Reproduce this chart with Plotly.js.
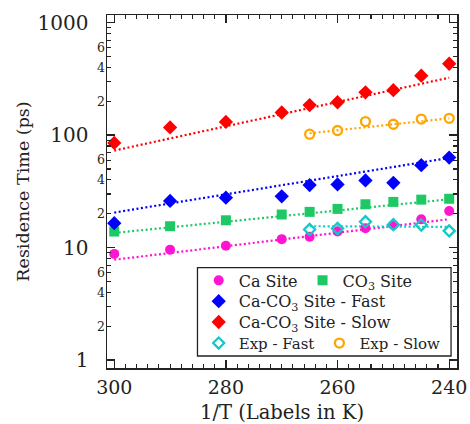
<!DOCTYPE html>
<html>
<head>
<meta charset="utf-8">
<script src="https://cdn.plot.ly/plotly-3.0.1.min.js"></script>
<style>html,body{margin:0;padding:0;background:#fff;}#chart{width:470px;height:424px;}</style>
</head>
<body>
<div id="chart"></div>
<script>
// ---- data ----
const simT = [300, 290, 280, 270, 265, 260, 255, 250, 245, 240];
const expT = [265, 260, 255, 250, 245, 240];

const caSite   = [8.8, 9.6, 10.4, 11.9, 12.5, 13.9, 14.9, 15.9, 17.9, 21.2];
const co3Site  = [13.9, 15.5, 17.5, 19.7, 20.8, 22.1, 24.3, 25.5, 26.7, 27.2];
const caco3Fast = [16.5, 26.0, 27.8, 28.6, 36.0, 36.5, 39.6, 37.7, 54.1, 63.2];
const caco3Slow = [85.2, 117, 131, 159, 185, 196, 240, 251, 338, 431];
const expFast  = [14.5, 14.8, 17.0, 16.0, 15.9, 14.1];
const expSlow  = [102, 110, 132, 125, 139, 141];

// fitted lines (end points)
const simFitT = [300, 240];
const expFitT = [265, 240];
const caFit    = [7.8, 17.9];
const co3Fit   = [13.5, 26.9];
const fastFit  = [20.5, 62.8];
const slowFit  = [72.9, 324];
const expFastFit = [15.5, 15.3];
const expSlowFit = [104, 141];

const yMajorVals = [1, 10, 100, 1000];
const yMajorText = ['1', '10', '100', '1000'];
const yMinorLabelVals = [2, 4, 6, 20, 40, 60, 200, 400, 600];
const yMinorLabelText = ['2', '4', '6', '2', '4', '6', '2', '4', '6'];
const xTickVals = [300, 280, 260, 240];

// ---- styling ----
const FONT = 'DejaVu Serif, Liberation Serif, serif';
const C = {
  ca: '#ff14d2', co3: '#1ec864', fast: '#0000ff', slow: '#ff0000',
  expFast: '#14c8c8', expSlow: '#ffa500'
};

const minorY = [];
for (let d = 0; d < 3; d++) for (let k = 2; k <= 9; k++) minorY.push(k * Math.pow(10, d));

function fit(x, y, color) {
  return {x: x, y: y, mode: 'lines', type: 'scatter', showlegend: false, hoverinfo: 'skip',
    line: {color: color, width: 2.2, dash: '2px,2.5px'}};
}
function pts(x, y, name, sym, color, size, legend, open) {
  const m = {symbol: sym, size: size, color: color};
  if (open) { m.line = {color: color, width: 2.3}; }
  return {x: x, y: y, mode: 'markers', type: 'scatter', name: name, legend: legend, marker: m};
}

const traces = [
  fit(simFitT, slowFit, C.slow),
  fit(expFitT, expSlowFit, C.expSlow),
  fit(simFitT, fastFit, C.fast),
  fit(simFitT, co3Fit, C.co3),
  fit(simFitT, caFit, C.ca),
  fit(expFitT, expFastFit, C.expFast),
  pts(simT, caSite, 'Ca Site', 'circle', C.ca, 10, 'legend'),
  pts(simT, co3Site, 'CO<sub>3</sub> Site', 'square', C.co3, 10, 'legend'),
  pts(simT, caco3Fast, 'Ca-CO<sub>3</sub> Site - Fast', 'diamond', C.fast, 11, 'legend2'),
  pts(simT, caco3Slow, 'Ca-CO<sub>3</sub> Site - Slow', 'diamond', C.slow, 11, 'legend3'),
  pts(expT, expFast, 'Exp - Fast', 'diamond-open', C.expFast, 8.5, 'legend4', true),
  pts(expT, expSlow, 'Exp - Slow', 'circle-open', C.expSlow, 9, 'legend4', true),
];
// overlay axis trace carrying the small minor labels
traces.push({x: [simT[0]], y: [caSite[0]], yaxis: 'y2', mode: 'markers', showlegend: false,
  hoverinfo: 'skip', marker: {opacity: 0}});

function leg(y, fs) {
  return {orientation: 'h', x: 0.262, y: y, xanchor: 'left', yanchor: 'middle',
    bgcolor: 'rgba(0,0,0,0)', borderwidth: 0, font: {family: FONT, size: fs, color: '#222'},
    itemclick: false};
}

const yRange = [-0.07, 3.068];
const layout = {
  width: 470, height: 424,
  margin: {l: 107, r: 11, t: 13, b: 56},
  paper_bgcolor: '#fff', plot_bgcolor: '#fff',
  font: {family: FONT, color: '#222'},
  showlegend: true,
  xaxis: {
    range: [301.3, 238.6], tickmode: 'array', tickvals: xTickVals, automargin: false,
    ticks: 'inside', ticklen: 8, tickwidth: 1.3, tickcolor: '#222',
    minor: {dtick: 2, tick0: 240, ticks: 'inside', ticklen: 4, tickwidth: 1.1, tickcolor: '#222', showgrid: false},
    showline: true, linecolor: '#222', linewidth: 1.5, mirror: 'ticks',
    showgrid: false, zeroline: false,
    tickfont: {family: FONT, size: 19, color: '#222'},
    ticklabelstandoff: 2,
    title: {text: '1/T (Labels in K)', font: {family: FONT, size: 19.5, color: '#222'}}
  },
  yaxis: {
    type: 'log', range: yRange, tickmode: 'array', tickvals: yMajorVals, ticktext: yMajorText, automargin: true,
    ticks: 'inside', ticklen: 8, tickwidth: 1.3, tickcolor: '#222',
    minor: {tickvals: minorY, ticks: 'inside', ticklen: 4, tickwidth: 1.1, tickcolor: '#222', showgrid: false},
    showline: true, linecolor: '#222', linewidth: 1.5, mirror: 'ticks',
    showgrid: false, zeroline: false,
    tickfont: {family: FONT, size: 20, color: '#222'},
    ticklabelstandoff: 13,
    title: {text: 'Residence Time (ps)', font: {family: FONT, size: 17.5, color: '#222'}, standoff: 3}
  },
  yaxis2: {
    type: 'log', range: yRange, overlaying: 'y', side: 'left', tickmode: 'array', automargin: false,
    tickvals: yMinorLabelVals, ticktext: yMinorLabelText, ticks: '',
    showline: false, showgrid: false, zeroline: false,
    tickfont: {family: FONT, size: 12.5, color: '#222'}, ticklabelstandoff: 1
  },
  legend: leg(0.248, 16),
  legend2: leg(0.189, 16),
  legend3: leg(0.130, 16),
  legend4: leg(0.070, 15),
  shapes: [{type: 'rect', xref: 'paper', yref: 'paper', x0: 0.2585, x1: 0.983, y0: 0.034, y1: 0.2845,
    line: {color: '#222', width: 1.3}, fillcolor: 'rgba(0,0,0,0)'}]
};

Plotly.newPlot('chart', traces, layout, {staticPlot: true, displayModeBar: false});
</script>
</body>
</html>
